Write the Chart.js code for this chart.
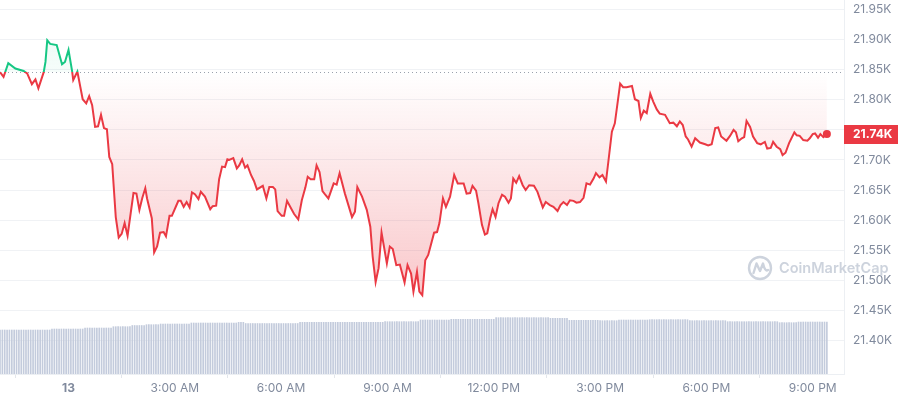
<!DOCTYPE html>
<html>
<head>
<meta charset="utf-8">
<script src="https://cdn.jsdelivr.net/npm/chart.js@4.4.1/dist/chart.umd.min.js"></script>
<style>
html,body{margin:0;padding:0;background:#fff;}
#wrap{width:898px;height:400px;position:relative;}
</style>
</head>
<body>
<div id="wrap"><canvas id="c"></canvas></div>
<script>
// Time in minutes relative to midnight of the 13th (negative = previous day)
const priceTimes = [-116,-110,-102,-90,-76,-70,-62,-56,-51,-42,-39,-36,-31,-20,-11,-6,0,6,8,15,24,30,35,40,45,50,55,60,65,69,74,80,85,90,95,100,110,115,120,125,130,133,141,145,150,155,161,165,171,175,182,186,190,195,200,205,209,214,220,224,231,240,244,250,255,260,265,269,272,279,285,289,294,299,303,309,314,319,329,335,340,346,350,354,361,365,370,376,382,389,395,401,405,410,416,420,425,430,434,440,449,454,459,468,480,485,489,497,505,511,515,520,525,530,539,544,549,555,561,569,574,580,584,590,594,599,604,609,619,624,628,634,639,646,653,659,669,674,680,684,690,694,700,705,709,714,718,723,728,734,739,745,749,753,758,763,769,774,780,788,794,803,808,815,821,828,833,838,844,849,855,860,866,872,877,883,889,893,899,904,910,914,920,925,934,939,945,954,959,965,969,974,979,985,990,996,1001,1010,1018,1024,1030,1035,1040,1045,1049,1055,1061,1069,1078,1083,1089,1095,1100,1105,1114,1120,1126,1130,1134,1140,1144,1148,1154,1159,1166,1172,1179,1183,1189,1193,1199,1205,1209,1214,1220,1229,1233,1238,1244,1251,1255,1260,1264,1269,1273,1278,1284];
const priceValues = [21846,21838,21861,21852,21848,21844,21826,21834,21819,21846,21863,21899,21893,21891,21859,21863,21883,21848,21833,21847,21801,21794,21806,21791,21755,21756,21775,21753,21751,21705,21693,21605,21571,21577,21595,21574,21645,21644,21617,21637,21653,21636,21603,21546,21556,21579,21580,21573,21607,21607,21623,21632,21632,21622,21630,21621,21646,21643,21635,21647,21639,21618,21623,21624,21668,21689,21688,21701,21700,21703,21686,21691,21701,21687,21691,21675,21665,21651,21657,21636,21655,21655,21651,21615,21607,21607,21632,21621,21610,21601,21633,21654,21672,21668,21668,21691,21680,21648,21643,21636,21661,21659,21678,21644,21605,21614,21655,21639,21617,21589,21539,21497,21520,21579,21528,21556,21552,21525,21526,21496,21525,21511,21481,21514,21481,21475,21533,21542,21579,21580,21595,21636,21622,21639,21675,21661,21661,21644,21645,21657,21649,21628,21592,21576,21578,21603,21618,21605,21628,21642,21639,21629,21636,21669,21662,21673,21658,21650,21658,21657,21647,21621,21630,21625,21622,21615,21625,21630,21625,21633,21632,21629,21630,21637,21661,21659,21669,21678,21671,21675,21664,21697,21747,21761,21827,21821,21821,21823,21801,21798,21770,21782,21778,21810,21797,21784,21777,21775,21761,21762,21756,21764,21758,21739,21734,21722,21736,21729,21726,21724,21726,21753,21754,21739,21732,21740,21750,21746,21731,21736,21738,21765,21755,21739,21728,21726,21730,21719,21720,21730,21722,21718,21708,21712,21728,21746,21741,21740,21733,21732,21736,21743,21744,21737,21743,21738,21743];
const openPrice = 21846;

// Volume (billions USD), as runs of [barCount, value], one bar every 4 minutes from the first price time
const volumeStep = 4;
const volumeRuns = [[22,22.0],[14,22.5],[12,23.0],[8,23.65],[6,24.25],[6,24.65],[13,25.0],[20,25.5],[3,25.85],[23,25.25],[36,25.85],[15,26.15],[13,27.0],[19,27.35],[23,28.15],[8,27.85],[13,26.85],[8,26.65],[13,27.0],[17,27.15],[16,26.65],[22,26.15],[8,25.65],[13,26.0]];

const yTicks = [21400,21450,21500,21550,21600,21650,21700,21750,21800,21850,21900,21950];
const xTicks = [0,180,360,540,720,900,1080,1260];
const xTickLabels = ['13','3:00 AM','6:00 AM','9:00 AM','12:00 PM','3:00 PM','6:00 PM','9:00 PM'];

const RED = '#ea3943', GREEN = '#16c784';
const FONT = 'Inter, "Noto Sans", sans-serif';
const lastPrice = priceValues[priceValues.length-1];

const priceData = priceTimes.map((t,i)=>({x:t,y:priceValues[i]}));
const volumeData = [];
{
  let t = priceTimes[0];
  volumeRuns.forEach(([n,v])=>{ for(let k=0;k<n;k++){ volumeData.push({x:t,y:v}); t+=volumeStep; } });
}

function baseFrac(chart){
  const a = chart.chartArea, y = chart.scales.y.getPixelForValue(openPrice);
  return Math.min(1,Math.max(0,(y-a.top)/(a.bottom-a.top)));
}
function strokeGrad(ctx){
  const chart = ctx.chart; const a = chart.chartArea;
  if(!a) return RED;
  const f = baseFrac(chart);
  const g = chart.ctx.createLinearGradient(0,a.top,0,a.bottom);
  g.addColorStop(0,GREEN); g.addColorStop(f,GREEN); g.addColorStop(f,RED); g.addColorStop(1,RED);
  return g;
}
function fillGrad(ctx){
  const chart = ctx.chart; const a = chart.chartArea;
  if(!a) return 'rgba(234,57,67,0.1)';
  const yb = chart.scales.y.getPixelForValue(openPrice);
  const ylow = chart.scales.y.getPixelForValue(Math.min(...priceValues));
  const g = chart.ctx.createLinearGradient(0,a.top,0,ylow);
  const f = Math.min(1,Math.max(0,(yb-a.top)/(ylow-a.top)));
  g.addColorStop(0,'rgba(22,199,132,0.10)');
  g.addColorStop(f,'rgba(22,199,132,0.04)');
  g.addColorStop(f,'rgba(234,57,67,0.0)');
  g.addColorStop(1,'rgba(234,57,67,0.28)');
  return g;
}

const overlay = {
  id:'overlay',
  beforeDatasetsDraw(chart){
    const c = chart.ctx, a = chart.chartArea;
    const y = Math.round(chart.scales.y.getPixelForValue(openPrice))+0.5;
    c.save();
    c.strokeStyle = '#9aa1ad'; c.lineWidth = 1; c.setLineDash([1,3]);
    c.beginPath(); c.moveTo(a.left,y); c.lineTo(a.right,y); c.stroke();
    c.restore();
  },
  afterDraw(chart){
    const c = chart.ctx, a = chart.chartArea;
    // watermark
    c.save();
    const wc = '#cdd3dd';
    c.strokeStyle = wc; c.lineWidth = 2.4;
    c.beginPath(); c.arc(760,268,11,0,Math.PI*2); c.stroke();
    c.lineJoin='round'; c.lineCap='round';
    c.beginPath();
    c.moveTo(753.5,273); c.lineTo(756.5,263.5); c.lineTo(760,271); c.lineTo(763,263.5); c.quadraticCurveTo(765,272,768,270);
    c.stroke();
    c.fillStyle = wc; c.font = '600 14.5px ' + FONT; c.textBaseline='middle'; c.textAlign='left';
    c.fillText('CoinMarketCap',779,268.5);
    c.restore();
    // last price label
    const y = chart.scales.y.getPixelForValue(lastPrice);
    c.save();
    c.fillStyle = RED;
    c.fillRect(a.right, Math.round(y-9.5), chart.width-a.right, 19);
    c.fillStyle = '#fff'; c.font = 'bold 12px ' + FONT; c.textBaseline='middle'; c.textAlign='left';
    c.fillText((lastPrice/1000).toFixed(2)+'K', a.right+9, y+0.5);
    c.restore();
  }
};

new Chart(document.getElementById('c'),{
  type:'line',
  data:{
    datasets:[
      {
        type:'line', data:priceData, order:0,
        borderColor:strokeGrad, backgroundColor:fillGrad, borderWidth:2,
        fill:{value:openPrice}, tension:0, yAxisID:'y', clip:false,
        pointRadius:(ctx)=> ctx.dataIndex===priceValues.length-1 ? 4 : 0,
        pointBackgroundColor:RED, pointBorderWidth:0, pointHoverRadius:0
      },
      {
        type:'bar', data:volumeData, order:1, yAxisID:'yv',
        backgroundColor:'#c3cbdc', barThickness:1, borderWidth:0
      }
    ]
  },
  options:{
    responsive:true, maintainAspectRatio:false, animation:false,
    layout:{padding:0, autoPadding:false},
    plugins:{legend:{display:false}, tooltip:{enabled:false}},
    scales:{
      x:{
        type:'linear', min:-116, max:1313, offset:false,
        afterBuildTicks:(s)=>{ s.ticks = xTicks.map(v=>({value:v})); },
        afterFit:(s)=>{ s.height = 26; s.paddingLeft = 0; s.paddingRight = 0; },
        ticks:{
          autoSkip:false, maxRotation:0, padding:3, color:'#808a9d',
          font:(ctx)=>({family:FONT,size:12,weight:(ctx.tick&&ctx.tick.value===0)?'bold':'normal'}),
          callback:(v)=>{ const i = xTicks.indexOf(v); return i>=0 ? xTickLabels[i] : ''; }
        },
        grid:{display:true, drawOnChartArea:false, drawTicks:true, tickLength:4, color:'#e3e6eb'},
        border:{display:true, color:'#eceff3'}
      },
      y:{
        position:'right', min:21344, max:21966,
        afterBuildTicks:(s)=>{ s.ticks = yTicks.map(v=>({value:v})); },
        afterFit:(s)=>{ s.width = 54; s.paddingTop = 0; s.paddingBottom = 0; },
        ticks:{padding:9, font:{family:FONT,size:12},
          color:(ctx)=> (ctx.tick && Math.abs(ctx.tick.value-lastPrice) < 25) ? 'rgba(0,0,0,0)' : '#808a9d',
          callback:(v)=> (v/1000).toFixed(2)+'K'},
        grid:{color:'#f0f2f5', drawTicks:false},
        border:{display:true, color:'#eceff3'}
      },
      yv:{display:false, min:0, max:187}
    }
  },
  plugins:[overlay]
});
</script>
</body>
</html>
